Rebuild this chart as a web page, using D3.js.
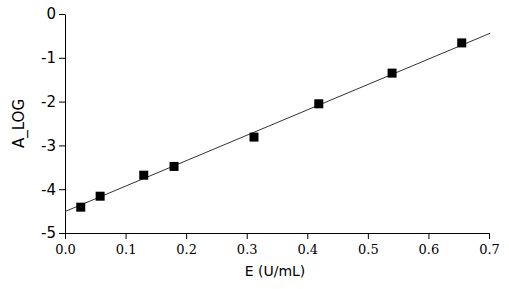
<!DOCTYPE html>
<html lang="en">
<head>
    <meta charset="utf-8">
    <title>A_LOG vs E</title>
    <script src="https://d3js.org/d3.v7.min.js"></script>
    <style>
        body { margin: 0; background: #fff; }
    </style>
</head>
<body>
<div id="chart"></div>
<script>
    // measured points
    const eValues = [0.026, 0.058, 0.130, 0.180, 0.312, 0.419, 0.540, 0.655];
    const logValues = [-4.41, -4.16, -3.68, -3.48, -2.81, -2.05, -1.35, -0.66];
    // fitted line: y = intercept + slope * x, drawn from 0 to fitEnd
    const fitIntercept = -4.51;
    const fitSlope = 5.80;
    const fitRange = [0, 0.702];
    const xTicks = [0, 0.1, 0.2, 0.3, 0.4, 0.5, 0.6, 0.7];
    const yTicks = [0, -1, -2, -3, -4, -5];

    const W = 509, H = 289;
    const margin = {top: 14, right: 20, bottom: 56, left: 65};

    const svg = d3.select("#chart").append("svg")
        .attr("width", W)
        .attr("height", H);

    const x = d3.scaleLinear().domain([0, 0.7]).range([margin.left, 489]);
    const y = d3.scaleLinear().domain([-5, 0]).range([233, margin.top]);

    // x axis
    const xAxis = svg.append("g")
        .attr("transform", `translate(0,${y(-5)})`)
        .call(d3.axisBottom(x).tickValues(xTicks).tickFormat(d3.format(".1f")).tickSize(6).tickSizeOuter(0));
    xAxis.select(".domain").attr("stroke", "#000");
    xAxis.selectAll(".tick line").attr("stroke", "#000");
    xAxis.selectAll(".tick text")
        .attr("fill", "#000")
        .attr("dy", "0.9em")
        .style("font-family", "'DejaVu Serif', serif")
        .style("font-size", "13px");

    // y axis
    const yAxis = svg.append("g")
        .attr("transform", `translate(${x(0)},0)`)
        .call(d3.axisLeft(y).tickValues(yTicks).tickFormat(d3.format("d")).tickSize(6).tickSizeOuter(0));
    yAxis.select(".domain").attr("stroke", "#000");
    yAxis.selectAll(".tick line").attr("stroke", "#000");
    yAxis.selectAll(".tick text")
        .attr("fill", "#000")
        .attr("x", -9)
        .style("font-family", "'DejaVu Sans', Verdana, sans-serif")
        .style("font-size", "15px")
        .text(d => d === 0 ? "0" : "-" + Math.abs(d));

    // axis titles
    svg.append("text")
        .attr("x", 275)
        .attr("y", 276)
        .attr("text-anchor", "middle")
        .style("font-family", "'DejaVu Sans', Verdana, sans-serif")
        .style("font-size", "14px")
        .text("E (U/mL)");

    svg.append("text")
        .attr("transform", `translate(24,${(y(0) + y(-5)) / 2}) rotate(-90)`)
        .attr("text-anchor", "middle")
        .style("font-family", "'DejaVu Sans', Verdana, sans-serif")
        .style("font-size", "15px")
        .text("A_LOG");

    // fit line
    svg.append("path")
        .datum(fitRange)
        .attr("d", d3.line()
            .x(d => x(d))
            .y(d => y(fitIntercept + fitSlope * d)))
        .attr("stroke", "#333")
        .attr("stroke-width", 1)
        .attr("fill", "none");

    // points
    const pts = eValues.map((e, i) => ({e: e, v: logValues[i]}));
    const s = 9;
    svg.append("g")
        .selectAll("rect")
        .data(pts)
        .join("rect")
        .attr("x", d => x(d.e) - s / 2)
        .attr("y", d => y(d.v) - s / 2)
        .attr("width", s)
        .attr("height", s)
        .attr("fill", "#000");
</script>
</body>
</html>
